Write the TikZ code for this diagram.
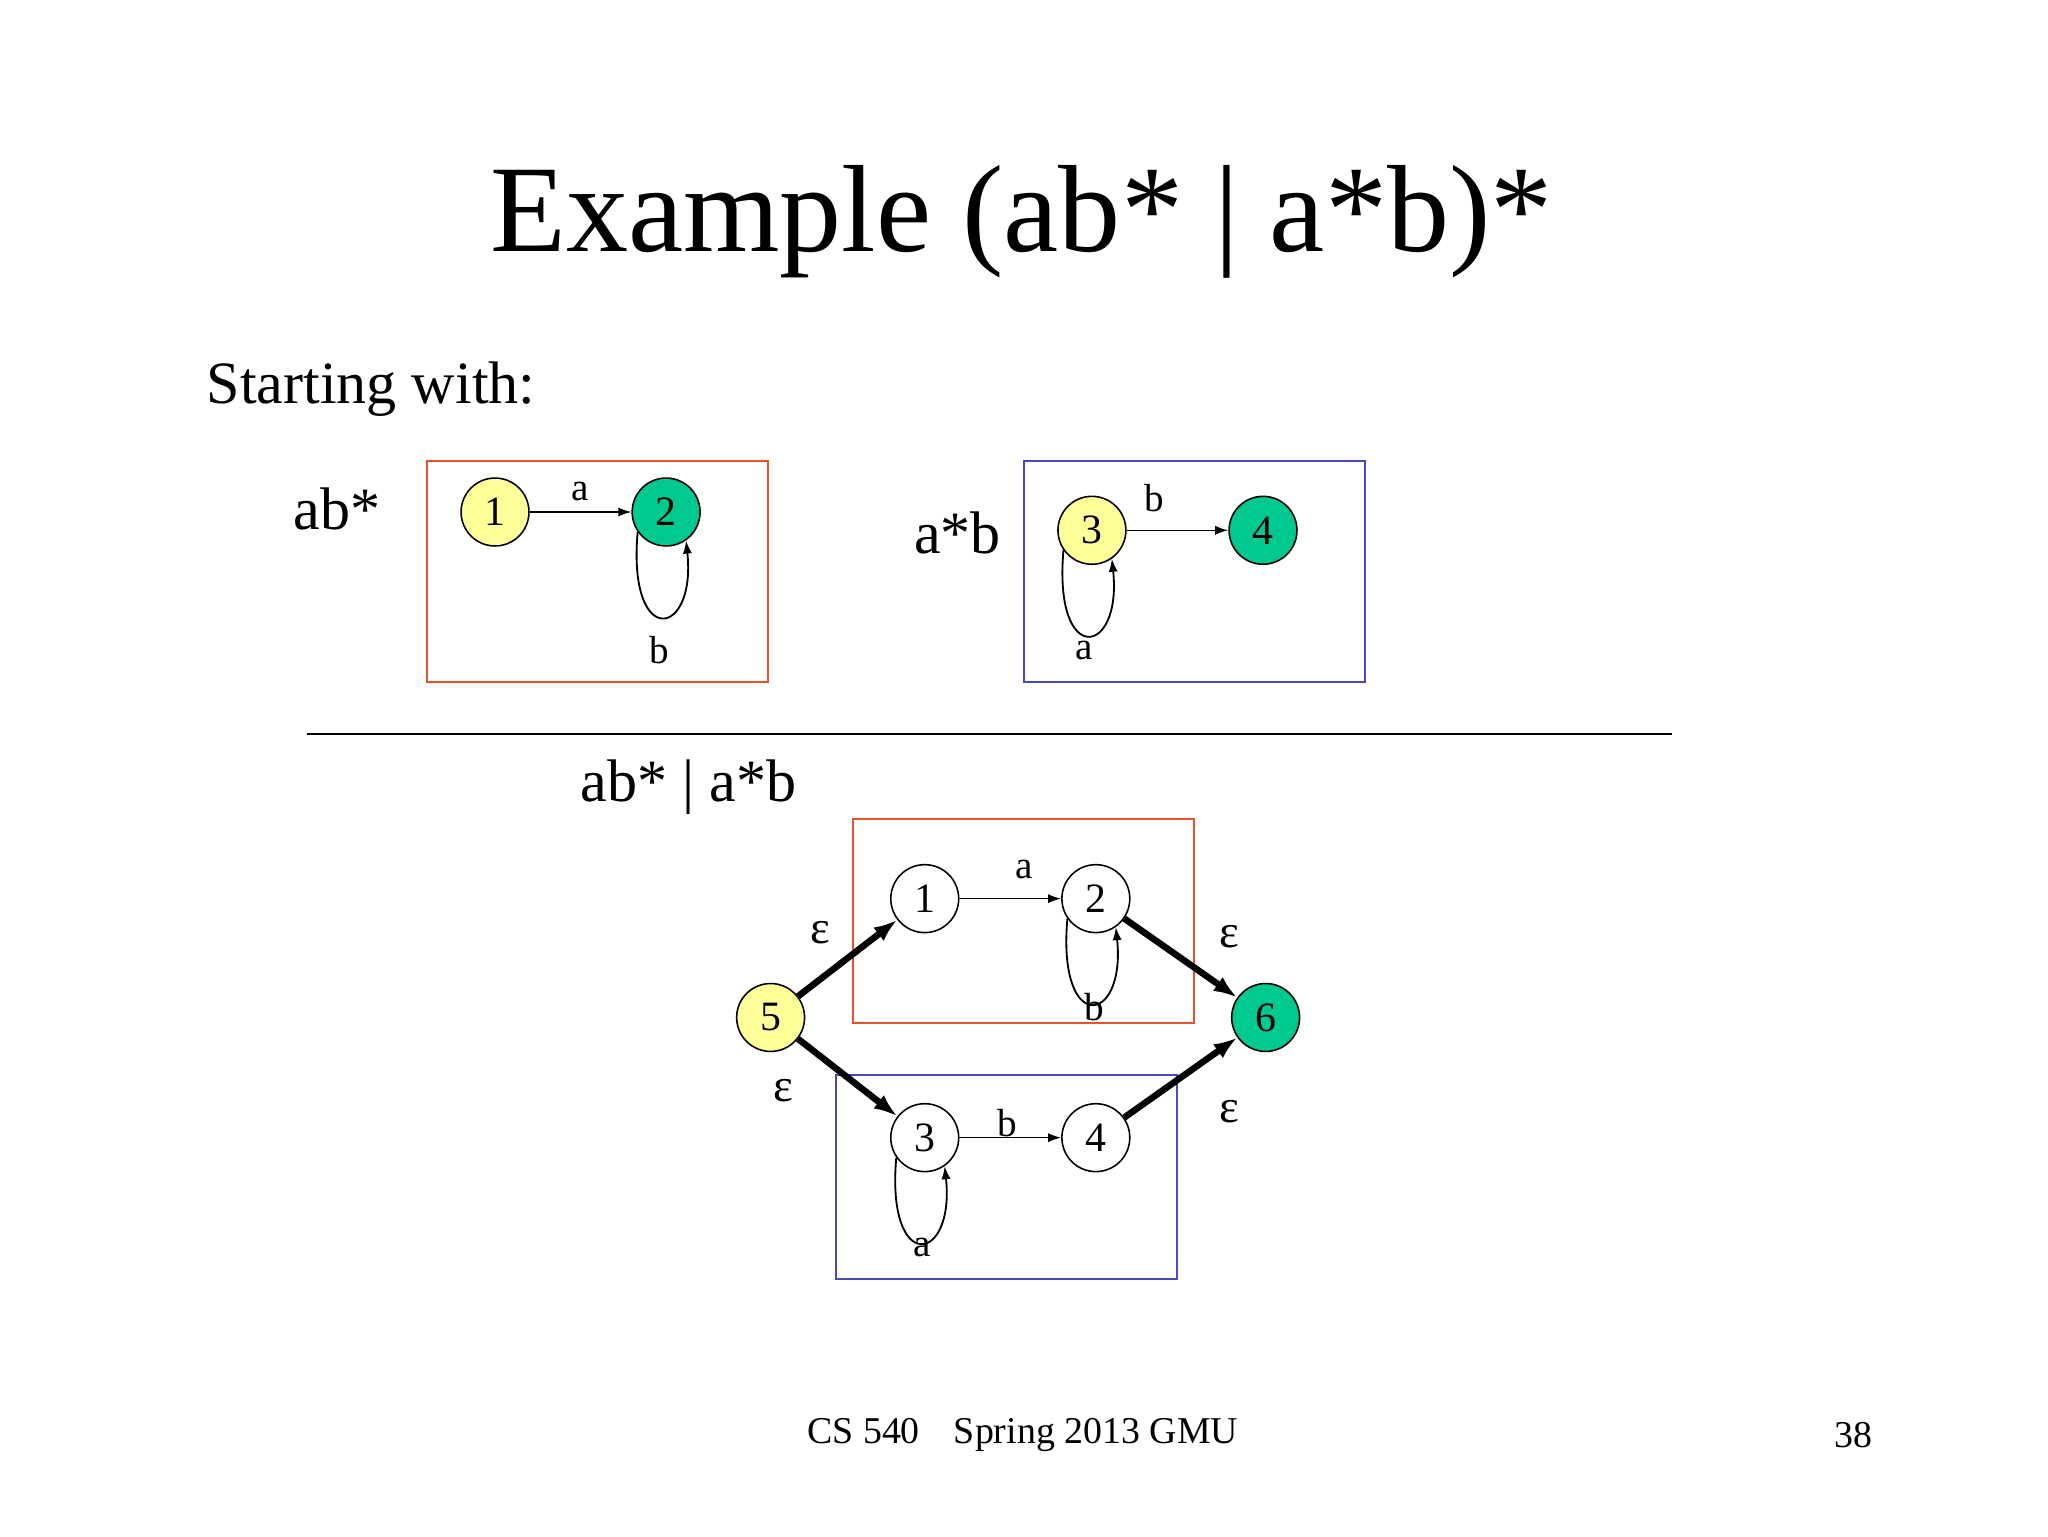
\documentclass[tikz,border=0pt]{standalone}
\usepackage{fontspec}
\setmainfont{Liberation Serif}
\usetikzlibrary{arrows.meta}
\definecolor{yel}{HTML}{FFFF99}
\definecolor{grn}{HTML}{00C98F}
\definecolor{redb}{HTML}{E8502A}
\definecolor{blub}{HTML}{4848C0}
\begin{document}
\begin{tikzpicture}[x=1pt,y=-1pt,
  st/.style={circle,draw,line width=1.2pt,minimum size=52pt,inner sep=0pt,font=\fontsize{32}{32}\selectfont},
  lab/.style={font=\fontsize{30}{30}\selectfont,inner sep=0pt},
  big/.style={font=\fontsize{46}{46}\selectfont,inner sep=0pt},
  eps/.style={font=\fontsize{36}{36}\selectfont,inner sep=0pt},
  tr/.style={-{Latex[length=10pt,width=7pt]},line width=1.2pt},
  lp/.style={-{Latex[length=10pt,width=7pt]},line width=1.4pt},
  th/.style={-{Latex[length=18pt,width=13pt]},line width=5pt},
  rbox/.style={draw=redb,line width=1.4pt},
  bbox/.style={draw=blub,line width=1.4pt}]
\useasboundingbox[fill=white] (0,0) rectangle (1568,1176);
\node[font=\fontsize{95}{95}\selectfont,inner sep=0pt] (title) at (782,170) {Example (ab* | a*b)*};
\node[big,anchor=west] (start) at (158,298) {Starting with:};
% ab*
\node[big] (l1) at (258,390) {ab*};
\draw[rbox] (327,353) rectangle (588,522);
\node[st,fill=yel] (a1) at (379,392) {1};
\node[st,fill=grn] (a2) at (510,392) {2};
\draw[tr] (a1) -- (a2) node[lab,midway,above=8pt] {a};
\draw[lp] (a2.215) .. controls +(-8,90) and +(8,75) .. (a2.305);
\node[lab] (ab) at (505,498) {b};
% a*b
\node[big] (l2) at (733,408) {a*b};
\draw[bbox] (784,353) rectangle (1045,522);
\node[st,fill=yel] (b3) at (836,406) {3};
\node[st,fill=grn] (b4) at (967,406) {4};
\draw[tr] (b3) -- (b4);
\node[lab] (bb) at (884,381) {b};
\draw[lp] (b3.215) .. controls +(-8,90) and +(8,75) .. (b3.305);
\node[lab] (ba) at (830,498) {a};
% rule
\draw[line width=1.2pt] (235,562) -- (1280,562);
\node[big] (l3) at (527,603) {ab* | a*b};
\draw[rbox] (653,627) rectangle (914,783);
\draw[bbox] (640,823) rectangle (901,979);
\node[st,fill=white] (c1) at (708,688) {1};
\node[st,fill=white] (c2) at (839,688) {2};
\node[st,fill=white] (c3) at (708,871) {3};
\node[st,fill=white] (c4) at (839,871) {4};
\node[st,fill=yel] (c5) at (590,779) {5};
\node[st,fill=grn] (c6) at (969,779) {6};
\draw[tr] (c1) -- (c2);
\node[lab] (ca) at (784,666) {a};
\draw[lp] (c2.215) .. controls +(-8,90) and +(8,75) .. (c2.305);
\node[lab] (cb) at (838,771) {b};
\draw[tr] (c3) -- (c4);
\node[lab] (cbb) at (771,860) {b};
\draw[lp] (c3.215) .. controls +(-8,90) and +(8,75) .. (c3.305);
\node[lab] (caa) at (706,955) {a};
\draw[th] (c5) -- (c1);
\draw[th] (c5) -- (c3);
\draw[th] (c2) -- (c6);
\draw[th] (c4) -- (c6);
\node[eps] (e1) at (628,714) {ε};
\node[eps] (e2) at (600,835) {ε};
\node[eps] (e3) at (941,717) {ε};
\node[eps] (e4) at (941,851) {ε};
\node[font=\fontsize{29}{29}\selectfont,inner sep=0pt] (foot) at (783,1099) {CS 540\hspace{0.9em}Spring 2013 GMU};
\node[font=\fontsize{29}{29}\selectfont,inner sep=0pt] (pg) at (1419,1099) {38};
\end{tikzpicture}
\end{document}
